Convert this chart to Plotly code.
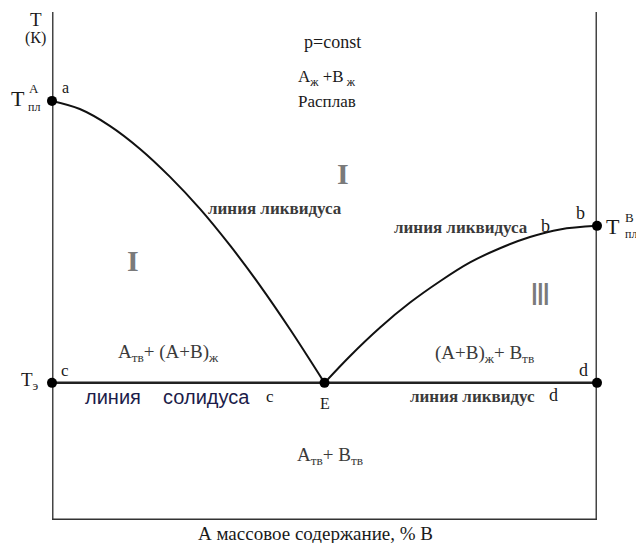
import plotly.graph_objects as go

# Eutectic phase diagram of an A-B system (composition in % B, temperature in relative units)
liq_a_x = [0, 5.1, 10.6, 16.1, 21.7, 27.2, 32.7, 38.2, 43.7, 50.0]
liq_a_T = [82.5, 80.9, 77.6, 73.1, 67.5, 61.2, 54.0, 46.1, 37.5, 27.0]
liq_b_x = [50.0, 54.7, 60.2, 65.7, 71.2, 76.7, 82.2, 87.7, 93.2, 100.0]
liq_b_T = [27.0, 32.3, 37.9, 42.8, 47.0, 50.7, 53.5, 55.7, 57.2, 57.9]
sol_x = [0, 100]
sol_T = [27.0, 27.0]
pt_names = ["a", "b", "c", "E", "d"]
pt_x = [0, 100, 0, 50, 100]
pt_T = [82.5, 57.9, 27.0, 27.0, 27.0]

W, H = 636, 543
L, R, T, B = 52, 39, 12, 23
PW, PH = W - L - R, H - T - B


def fx(px):
    return (px - L) / PW


def fy(py):
    return (H - B - py) / PH


SERIF = "Liberation Serif, Times New Roman, DejaVu Serif, serif"
INK = "#1a1a1a"
GREY = "#3a3a3a"
NUM = "#7a7a7a"

fig = go.Figure()
line_style = dict(color="#111111", width=2)
fig.add_trace(go.Scatter(x=liq_a_x, y=liq_a_T, mode="lines", line=dict(line_style, shape="spline"),
                         hoverinfo="skip"))
fig.add_trace(go.Scatter(x=liq_b_x, y=liq_b_T, mode="lines", line=dict(line_style, shape="spline"),
                         hoverinfo="skip"))
fig.add_trace(go.Scatter(x=sol_x, y=sol_T, mode="lines", line=dict(color="#222222", width=2.5),
                         hoverinfo="skip"))
fig.add_trace(go.Scatter(x=pt_x, y=pt_T, mode="markers", text=pt_names,
                         marker=dict(color="black", size=10), cliponaxis=False, hoverinfo="text"))

# frame: two temperature axes and the composition axis
frame = dict(type="line", xref="x", yref="y", line=dict(color="#444444", width=3), layer="below")
fig.add_shape(frame, x0=0, x1=0, y0=0, y1=100)
fig.add_shape(frame, x0=100, x1=100, y0=0, y1=100)
fig.add_shape(dict(frame, line=dict(color="#333333", width=3)), x0=0, x1=100, y0=0, y1=0)

labels = [
    ("T", 36, 20, 19, INK, SERIF),
    ("(К)", 35, 38, 16, INK, SERIF),
    ("T", 18, 98, 22, INK, SERIF),
    ("A", 34, 89, 13, INK, SERIF),
    ("пл", 34, 107, 12, INK, SERIF),
    ("a", 65, 88, 16, INK, SERIF),
    ("p=const", 332, 42, 18, INK, SERIF),
    ("A<sub>ж</sub> +B<sub> ж</sub>", 327, 78, 17, INK, SERIF),
    ("Расплав", 327, 101, 17, INK, SERIF),
    ("<b>I</b>", 343, 173, 30, NUM, SERIF),
    ("<b>I</b>", 133, 260, 30, NUM, SERIF),
    ("Ⅲ", 540, 294, 30, NUM, "Liberation Serif"),
    ("<b>линия ликвидуса</b>", 275, 208, 17, GREY, SERIF),
    ("<b>линия ликвидуса</b>", 461, 227, 17, GREY, SERIF),
    ("b", 545, 226, 18, INK, SERIF),
    ("b", 580, 213, 18, INK, SERIF),
    ("T", 613, 226, 22, INK, SERIF),
    ("B", 629, 218, 13, INK, SERIF),
    ("пл", 631, 234, 12, INK, SERIF),
    ("A<sub>тв</sub>+ (A+B)<sub>ж</sub>", 168, 353, 19, GREY, SERIF),
    ("(A+B)<sub>ж</sub>+ B<sub>тв</sub>", 484, 354, 19, GREY, SERIF),
    ("T<sub>э</sub>", 30, 381, 19, INK, SERIF),
    ("c", 65, 370, 17, INK, SERIF),
    ("d", 583, 370, 18, INK, SERIF),
    ("линия    солидуса", 167, 397, 20, "#1c1c4a", "Liberation Sans, Arial, sans-serif"),
    ("c", 270, 396, 17, INK, SERIF),
    ("E", 325, 403, 16, INK, SERIF),
    ("<b>линия ликвидус</b>", 472, 396, 17, GREY, SERIF),
    ("d", 553, 395, 18, INK, SERIF),
    ("A<sub>тв</sub>+ B<sub>тв</sub>", 330, 456, 19, GREY, SERIF),
    ("А массовое содержание, % В", 315, 533, 19, INK, SERIF),
]
for text, px, py, size, color, family in labels:
    fig.add_annotation(x=fx(px), y=fy(py), xref="paper", yref="paper", text=text, showarrow=False,
                       xanchor="center", yanchor="middle",
                       font=dict(family=family, size=size, color=color))

fig.update_xaxes(range=[0, 100], visible=False, fixedrange=True)
fig.update_yaxes(range=[0, 100], visible=False, fixedrange=True)
fig.update_layout(width=W, height=H, margin=dict(l=L, r=R, t=T, b=B),
                  paper_bgcolor="white", plot_bgcolor="white", showlegend=False)

fig.write_html("out.html")
